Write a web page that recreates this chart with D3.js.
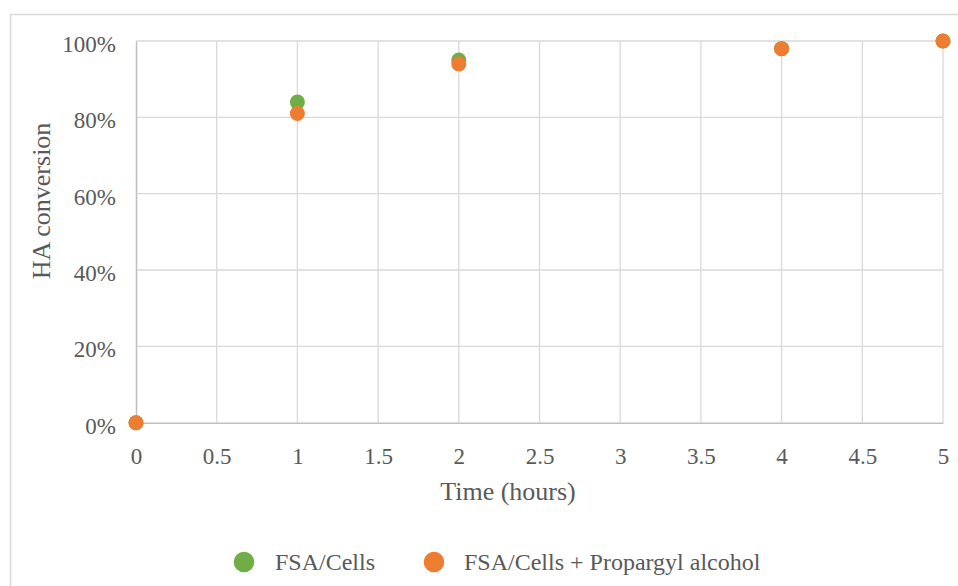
<!DOCTYPE html>
<html>
<head>
<meta charset="utf-8">
<script src="https://cdn.jsdelivr.net/npm/d3@7"></script>
<style>
  html, body { margin: 0; padding: 0; background: #fff; }
  svg { display: block; }
  text { font-family: "Liberation Serif", "Times New Roman", serif; fill: #595959; }
</style>
</head>
<body>
<svg id="chart" width="958" height="586"></svg>
<script>
// Reaction time (hours) and HA conversion for each series
const timeHours = [0, 1, 2, 4, 5];
const fsaCells = [0, 0.84, 0.95, 0.98, 1.00];
const fsaCellsPropargyl = [0, 0.81, 0.94, 0.98, 1.00];
const seriesNames = ["FSA/Cells", "FSA/Cells + Propargyl alcohol"];
const seriesColors = ["#70AD47", "#ED7D31"];
const xTicks = [0, 0.5, 1, 1.5, 2, 2.5, 3, 3.5, 4, 4.5, 5];
const yTicks = [0, 0.2, 0.4, 0.6, 0.8, 1.0];

const svg = d3.select("#chart");
const plot = { left: 136, right: 943, top: 41, bottom: 422.7 };

// Outer chart border
svg.append("rect")
  .attr("x", 10.5).attr("y", 14.5)
  .attr("width", 960).attr("height", 600)
  .attr("fill", "none").attr("stroke", "#D9D9D9").attr("stroke-width", 1.5);

const x = d3.scaleLinear().domain([0, 5]).range([plot.left, plot.right]);
const y = d3.scaleLinear().domain([0, 1]).range([plot.bottom, plot.top]);

// Gridlines
const grid = svg.append("g");
grid.selectAll("line.v").data(xTicks.slice(1)).join("line")
  .attr("x1", d => x(d)).attr("x2", d => x(d))
  .attr("y1", plot.top).attr("y2", plot.bottom)
  .attr("stroke", "#D9D9D9").attr("stroke-width", 1.3);
grid.selectAll("line.h").data(yTicks.slice(1)).join("line")
  .attr("x1", plot.left).attr("x2", plot.right)
  .attr("y1", d => y(d)).attr("y2", d => y(d))
  .attr("stroke", "#D9D9D9").attr("stroke-width", 1.3);

// Axes
const xAxis = svg.append("g")
  .attr("transform", `translate(0,${plot.bottom})`)
  .call(d3.axisBottom(x).tickValues(xTicks).tickSize(0).tickPadding(25).tickFormat(d3.format("")));
const yAxis = svg.append("g")
  .attr("transform", `translate(${plot.left},0)`)
  .call(d3.axisLeft(y).tickValues(yTicks).tickSize(0).tickPadding(20).tickFormat(d3.format(".0%")));
[xAxis, yAxis].forEach(a => {
  a.select(".domain").attr("stroke", "#BFBFBF").attr("stroke-width", 1.5);
  a.selectAll("text").attr("font-size", 23).attr("fill", "#595959")
    .style("font-family", '"Liberation Serif", "Times New Roman", serif');
});
yAxis.selectAll("text").attr("dy", "0.46em");

// Axis titles
svg.append("text")
  .attr("x", 508).attr("y", 500)
  .attr("text-anchor", "middle").attr("font-size", 26)
  .text("Time (hours)");
svg.append("text")
  .attr("transform", "translate(50,201) rotate(-90)")
  .attr("text-anchor", "middle").attr("font-size", 26)
  .text("HA conversion");

// Data points
const series = [fsaCells, fsaCellsPropargyl];
series.forEach((vals, i) => {
  svg.append("g").selectAll("circle")
    .data(timeHours.map((t, k) => ({ t, v: vals[k] })))
    .join("circle")
    .attr("cx", d => x(d.t)).attr("cy", d => y(d.v))
    .attr("r", 7.5).attr("fill", seriesColors[i]);
});

// Legend
const legendItems = [
  { name: seriesNames[0], color: seriesColors[0], cx: 244, tx: 275 },
  { name: seriesNames[1], color: seriesColors[1], cx: 434, tx: 464 }
];
const legend = svg.append("g");
legend.selectAll("circle").data(legendItems).join("circle")
  .attr("cx", d => d.cx).attr("cy", 562).attr("r", 10.3)
  .attr("fill", d => d.color);
legend.selectAll("text").data(legendItems).join("text")
  .attr("x", d => d.tx).attr("y", 562).attr("dy", "0.35em")
  .attr("font-size", 24)
  .text(d => d.name);
</script>
</body>
</html>
